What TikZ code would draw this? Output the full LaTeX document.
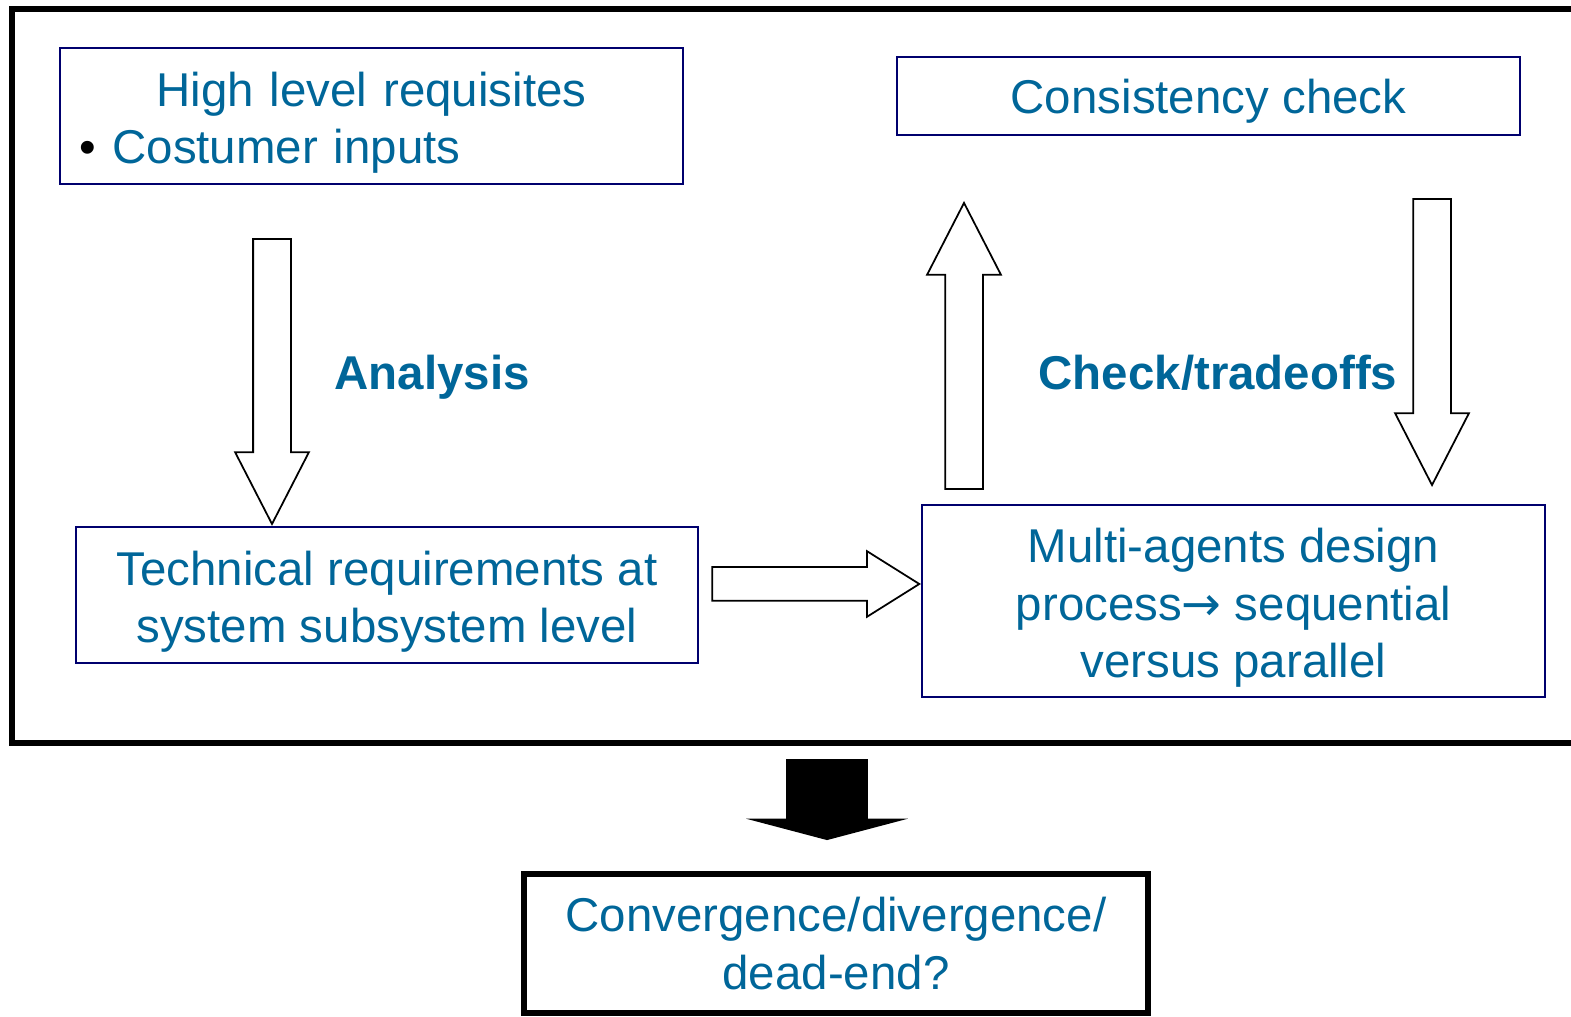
\documentclass[tikz,border=0pt]{standalone}
\usepackage{fontspec}
\setmainfont{Liberation Sans}
\newfontfamily\arrowfont{DejaVu Sans}
\usetikzlibrary{shapes.arrows}

\definecolor{textblue}{RGB}{0,102,153}
\definecolor{boxnavy}{RGB}{0,0,110}
% strut on a first line, pushes the text of a box a little down
\newcommand{\firstline}[1]{\rule{0pt}{#1}}

\begin{document}
\begin{tikzpicture}[
    box/.style={shape=rectangle, draw=boxnavy, line width=0.6pt, text=textblue,
        align=center, inner sep=0pt, font=\fontsize{13.5}{16.4}\selectfont},
    arrowlabel/.style={text=textblue, font=\fontsize{13.5}{16.4}\selectfont\bfseries},
    hollowarrow/.style={shape=single arrow, draw=black, line width=0.5pt, fill=white,
        inner xsep=0pt, inner ysep=0.18cm, single arrow head extend=0.18cm,
        single arrow head indent=0pt, single arrow tip angle=54.4, anchor=tip}
]
            \clip (0,0) rectangle (15.71,10.17);
            % outer frame (runs off the right edge)
            \node[shape=rectangle, draw, line width=1.7pt, minimum width=15.88cm,
                minimum height=7.34cm, inner sep=0pt] (frame) at (8.06,6.41) {};

            \node[box, minimum width=6.23cm, minimum height=1.36cm, text width=5.83cm, align=left] (hlr) at (3.715,9.01)
                {{\centering\firstline{13.65pt}High level requisites\par}{\color{black}\textbullet}\ Costumer inputs};
            \node[box, minimum width=6.23cm, minimum height=0.78cm] (cons) at (12.085,9.21)
                {\firstline{12.5pt}Consistency check};
            \node[box, minimum width=6.22cm, minimum height=1.36cm] (tech) at (3.87,4.22)
                {\firstline{13.65pt}Technical requirements at\\system subsystem level};
            \node[box, minimum width=6.23cm, minimum height=1.92cm] (multi) at (12.335,4.16)
                {\firstline{13.65pt}Multi-agents design\\process{\arrowfont →} sequential\\versus parallel};
            \node[box, draw=black, line width=1.7pt, minimum width=6.24cm, minimum height=1.39cm] (conv) at (8.36,0.735)
                {Convergence/divergence/\\dead-end?};

            \node[arrowlabel] (analysis) at (4.32,6.40) {Analysis};
            \node[arrowlabel] (tradeoffs) at (12.18,6.44) {Check/tradeoffs};

            % block arrows
            \node[hollowarrow, rotate=-90, minimum height=2.85cm] (analysisarrow) at (2.72,0 |- tech.north) {};
            \node[hollowarrow, rotate=90, minimum height=2.86cm] (checkup) at (9.64,8.16) {};
            \node[hollowarrow, rotate=-90, minimum height=2.86cm] (checkdown) at (14.32,5.30) {};
            \node[hollowarrow, inner ysep=0.16cm, single arrow head extend=0.16cm,
                single arrow tip angle=64.2, minimum height=2.07cm] (toarrow) at (multi.west |- 0,4.33) {};
            \node[hollowarrow, draw=none, fill=black, inner ysep=0.4cm, single arrow head extend=0.4cm,
                single arrow tip angle=150.4, minimum height=0.81cm, rotate=-90] (resultarrow) at (8.27,1.76) {};
\end{tikzpicture}
\end{document}
